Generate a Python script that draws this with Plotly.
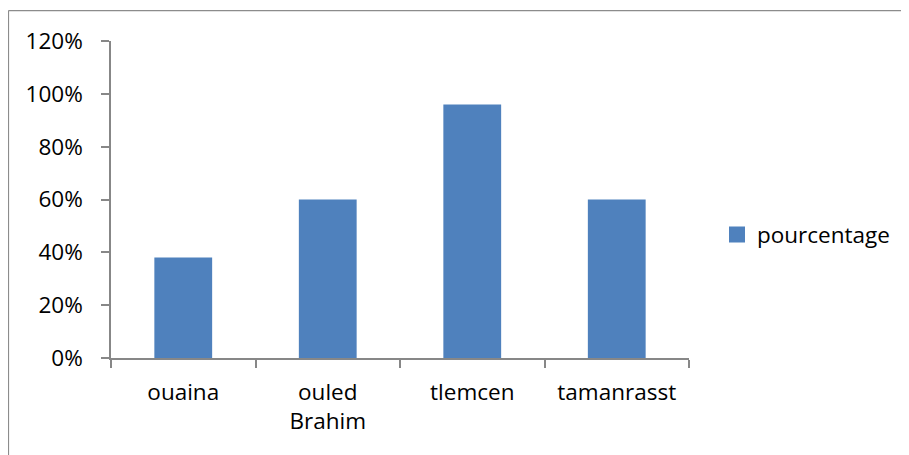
import plotly.graph_objects as go

categories = ["ouaina", "ouled<br>Brahim", "tlemcen", "tamanrasst"]
values = [0.38, 0.60, 0.96, 0.60]
series_name = "pourcentage"
tick_vals = [0, 0.2, 0.4, 0.6, 0.8, 1.0, 1.2]
tick_text = ["0%", "20%", "40%", "60%", "80%", "100%", "120%"]

# page body has an 8px margin, so figure coords = screen coords - 8
OFF = 8
W, H = 909, 455
L = 111 - OFF
T = 41 - OFF
PR = 689 - OFF
PB = 358.3 - OFF
R = W - PR
B = H - PB
pw, ph = PR - L, PB - T

font_family = "Open Sans, Liberation Sans, sans-serif"
fs = 22.5
axis_color = "#878787"
bar_color = "#4F81BD"
frame_color = "#8c8c8c"

def px_x(p):
    return (p - OFF - L) / pw
def px_y(p):
    return (PB - (p - OFF)) / ph

fig = go.Figure()
fig.add_trace(go.Bar(
    x=categories, y=values, name=series_name,
    marker=dict(color=bar_color, line=dict(width=0)),
    showlegend=False, legendgroup="s",
))
# legend entry with a larger square swatch
fig.add_trace(go.Scatter(
    x=[None], y=[None], mode="markers", name=series_name, legendgroup="s",
    marker=dict(symbol="square", size=16, color=bar_color), showlegend=True,
))

# chart frame: only the left and top edges are visible in the view
fig.add_shape(type="line", xref="paper", yref="paper",
              x0=px_x(8.5), x1=px_x(8.5), y0=px_y(480), y1=px_y(10.5),
              line=dict(color=frame_color, width=1.2), layer="below")
fig.add_shape(type="line", xref="paper", yref="paper",
              x0=px_x(8.5), x1=px_x(930), y0=px_y(10.5), y1=px_y(10.5),
              line=dict(color=frame_color, width=1.2), layer="below")

fig.update_layout(
    width=W, height=H,
    margin=dict(l=L, r=R, t=T, b=B, pad=0),
    paper_bgcolor="white", plot_bgcolor="white",
    bargap=0.6,
    font=dict(family=font_family, size=fs, color="#000000"),
    showlegend=True,
    legend=dict(
        x=px_x(717), y=px_y(235), xanchor="left", yanchor="middle",
        font=dict(size=fs, color="#000000"),
        bgcolor="rgba(0,0,0,0)", borderwidth=0, itemwidth=30,
    ),
    xaxis=dict(
        type="category", showgrid=False, zeroline=False,
        showline=True, linecolor=axis_color, linewidth=1.5,
        ticks="outside", tickson="boundaries", ticklen=8, tickcolor=axis_color, tickwidth=1.5,
        tickfont=dict(size=fs, color="#000000", family=font_family),
        ticklabelstandoff=13,
        range=[-0.5, 3.5],
    ),
    yaxis=dict(
        range=[0, 1.2], tickvals=tick_vals, ticktext=tick_text,
        showgrid=False, zeroline=False,
        showline=True, linecolor=axis_color, linewidth=1.5,
        ticks="outside", ticklen=8, tickcolor=axis_color, tickwidth=1.5,
        tickfont=dict(size=fs, color="#000000", family=font_family),
        ticklabelstandoff=14,
    ),
)

fig.write_html("out.html", config={"displayModeBar": False})
